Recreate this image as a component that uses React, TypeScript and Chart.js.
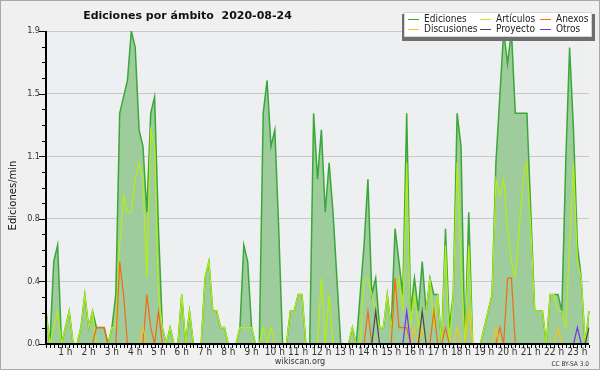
import React, { useEffect, useRef } from 'react';
import { Chart, registerables } from 'chart.js';

Chart.register(...registerables);

const TITLE = 'Ediciones por ámbito  2020-08-24';
const Y_TITLE = 'Ediciones/min';
const FOOTER = 'wikiscan.org';
const LICENSE = 'CC BY-SA 3.0';

// 10-minute samples from 00:10 to 23:30
const categories: string[] = Array.from({ length: 141 }, (_, j) => {
  const m = (j + 1) * 10;
  return `${String(Math.floor(m / 60)).padStart(2, '0')}:${String(m % 60).padStart(2, '0')}`;
});

const hourLabels = [
  '1 h', '2 h', '3 h', '4 h', '5 h', '6 h', '7 h', '8 h', '9 h', '10 h', '11 h', '12 h',
  '13 h', '14 h', '15 h', '16 h', '17 h', '18 h', '19 h', '20 h', '21 h', '22 h', '23 h',
];

const yTickValues = [0, 0.38, 0.76, 1.14, 1.52, 1.9];
const yTickLabels = ['0.0', '0.4', '0.8', '1.1', '1.5', '1.9'];

const ediciones = [
  0.2, 0, 0.5, 0.6, 0, 0.1, 0.2, 0, 0, 0.1,
  0.3, 0.1, 0.2, 0.1, 0.1, 0.1, 0, 0.1, 0.3, 1.4,
  1.5, 1.6, 1.9, 1.8, 1.3, 1.2, 0.8, 1.4, 1.5, 0.7,
  0.1, 0, 0.1, 0, 0, 0.3, 0, 0.2, 0, 0,
  0, 0.4, 0.5, 0.2, 0.2, 0.1, 0.1, 0, 0, 0,
  0.1, 0.6, 0.5, 0.1, 0, 0, 1.4, 1.6, 1.2, 1.3,
  0.7, 0, 0, 0.2, 0.2, 0.3, 0.3, 0, 0, 1.4,
  1.0, 1.3, 0.8, 1.1, 0.8, 0.4, 0, 0, 0, 0.1,
  0, 0.3, 0.6, 1.0, 0.3, 0.4, 0.1, 0.1, 0.3, 0.1,
  0.7, 0.5, 0.3, 1.4, 0.2, 0.4, 0.2, 0.5, 0.2, 0.4,
  0.3, 0.3, 0, 0.7, 0.1, 0.3, 1.4, 1.2, 0, 0.8,
  0, 0, 0, 0.1, 0.2, 0.3, 1.1, 1.5, 1.9, 1.7,
  1.9, 1.4, 1.4, 1.4, 1.4, 0.8, 0.2, 0.2, 0.2, 0,
  0.3, 0.3, 0.3, 0.2, 1.1, 1.8, 1.3, 0.6, 0.4, 0,
  0.2,
];

const articulos = [
  0.2, 0, 0.1, 0.2, 0, 0.1, 0.2, 0, 0, 0.1,
  0.3, 0.1, 0.2, 0, 0, 0, 0, 0.1, 0.1, 0.6,
  0.9, 0.8, 0.8, 1.0, 1.1, 1.0, 0.4, 1.3, 1.2, 0.3,
  0.1, 0, 0.1, 0, 0, 0.3, 0, 0.2, 0, 0,
  0, 0.4, 0.5, 0.2, 0.2, 0.1, 0.1, 0, 0, 0,
  0.1, 0.1, 0.1, 0.1, 0, 0, 0.1, 0, 0.1, 0,
  0, 0, 0, 0.2, 0.2, 0.3, 0.3, 0, 0, 0,
  0, 0.4, 0, 0.3, 0, 0, 0, 0, 0, 0.1,
  0, 0, 0.4, 0.4, 0.3, 0.2, 0.1, 0.1, 0.3, 0.1,
  0.3, 0.4, 0.2, 1.1, 0.1, 0.3, 0.1, 0.2, 0.2, 0.4,
  0.1, 0.3, 0, 0.6, 0, 0.3, 1.1, 0.5, 0, 0.6,
  0, 0, 0, 0.1, 0.2, 0.3, 1.0, 0.9, 1.0, 0.7,
  0.5, 0.4, 0.7, 1.0, 1.1, 0.7, 0.2, 0.2, 0.2, 0,
  0.3, 0.3, 0.2, 0.2, 0.1, 0.6, 1.1, 0.5, 0.4, 0,
  0.2,
];

const anexos = [
  0, 0, 0, 0, 0, 0, 0, 0, 0, 0,
  0, 0, 0, 0.1, 0.1, 0.1, 0, 0, 0, 0.5,
  0.3, 0, 0, 0, 0, 0, 0.3, 0.1, 0, 0.2,
  0, 0, 0, 0, 0, 0, 0, 0, 0, 0,
  0, 0, 0, 0, 0, 0, 0, 0, 0, 0,
  0, 0, 0, 0, 0, 0, 0, 0, 0, 0,
  0, 0, 0, 0, 0, 0, 0, 0, 0, 0,
  0, 0, 0, 0, 0, 0, 0, 0, 0, 0,
  0, 0, 0, 0.2, 0, 0, 0, 0, 0, 0,
  0.4, 0.1, 0.1, 0.1, 0, 0, 0, 0, 0, 0,
  0.2, 0, 0, 0.1, 0, 0, 0, 0, 0, 0,
  0, 0, 0, 0, 0, 0, 0, 0.1, 0, 0.4,
  0.4, 0, 0, 0, 0, 0, 0, 0, 0, 0,
  0, 0, 0, 0, 0, 0, 0, 0, 0, 0,
  0,
];

const discusiones = [
  0, 0, 0, 0, 0, 0, 0, 0, 0, 0,
  0, 0, 0, 0, 0, 0, 0, 0, 0, 0,
  0, 0, 0, 0, 0, 0.1, 0, 0, 0, 0,
  0, 0, 0, 0, 0, 0, 0, 0, 0, 0,
  0, 0, 0, 0, 0, 0, 0, 0, 0, 0,
  0, 0, 0, 0, 0, 0, 0, 0, 0, 0,
  0, 0, 0, 0, 0, 0, 0, 0, 0, 0,
  0, 0, 0, 0, 0, 0, 0, 0, 0, 0,
  0, 0, 0, 0, 0, 0, 0, 0, 0, 0,
  0, 0, 0, 0, 0, 0.1, 0, 0.1, 0, 0,
  0, 0, 0, 0, 0, 0, 0.1, 0, 0, 0.2,
  0, 0, 0, 0, 0, 0, 0.1, 0, 0, 0,
  0, 0, 0, 0, 0, 0, 0, 0, 0, 0,
  0, 0, 0.1, 0, 0, 0, 0, 0, 0, 0,
  0,
];

const proyecto = [
  0, 0, 0, 0, 0, 0, 0, 0, 0, 0,
  0, 0, 0, 0, 0, 0, 0, 0, 0, 0,
  0, 0, 0, 0, 0, 0, 0, 0, 0, 0,
  0, 0, 0, 0, 0, 0, 0, 0, 0, 0,
  0, 0, 0, 0, 0, 0, 0, 0, 0, 0,
  0, 0, 0, 0, 0, 0, 0, 0, 0, 0,
  0, 0, 0, 0, 0, 0, 0, 0, 0, 0,
  0, 0, 0, 0, 0, 0, 0, 0, 0, 0,
  0, 0, 0, 0, 0, 0.2, 0, 0, 0, 0,
  0, 0, 0, 0, 0, 0, 0, 0.2, 0, 0,
  0, 0, 0, 0, 0, 0, 0, 0, 0, 0,
  0, 0, 0, 0, 0, 0, 0, 0, 0, 0,
  0, 0, 0, 0, 0, 0, 0, 0, 0, 0,
  0, 0, 0, 0, 0, 0, 0, 0, 0, 0,
  0.1,
];

const otros = [
  0, 0, 0, 0, 0, 0, 0, 0, 0, 0,
  0, 0, 0, 0, 0, 0, 0, 0, 0, 0,
  0, 0, 0, 0, 0, 0, 0, 0, 0, 0,
  0, 0, 0, 0, 0, 0, 0, 0, 0, 0,
  0, 0, 0, 0, 0, 0, 0, 0, 0, 0,
  0, 0, 0, 0, 0, 0, 0, 0, 0, 0,
  0, 0, 0, 0, 0, 0, 0, 0, 0, 0,
  0, 0, 0, 0, 0, 0, 0, 0, 0, 0,
  0, 0, 0, 0, 0, 0, 0, 0, 0, 0,
  0, 0, 0, 0.2, 0, 0, 0, 0, 0, 0,
  0, 0, 0, 0, 0, 0, 0, 0, 0, 0,
  0, 0, 0, 0, 0, 0, 0, 0, 0, 0,
  0, 0, 0, 0, 0, 0, 0, 0, 0, 0,
  0, 0, 0, 0, 0, 0, 0, 0.1, 0, 0,
  0,
];

const COND = "'DejaVu Sans Condensed', 'DejaVu Sans', sans-serif";
const SANS = "'DejaVu Sans', sans-serif";

const decor = {
  id: 'decor',
  beforeDraw(chart: any) {
    const { ctx, width, height, chartArea: a } = chart;
    ctx.save();
    ctx.fillStyle = '#f0f0f0';
    ctx.fillRect(0, 0, width, height);
    ctx.fillStyle = '#eeeff1';
    ctx.fillRect(a.left, a.top, a.right - a.left, a.bottom - a.top);
    ctx.strokeStyle = '#a9a9a9';
    ctx.lineWidth = 1;
    ctx.strokeRect(0.5, 0.5, width - 1, height - 1);
    ctx.restore();
  },
  afterDatasetsDraw(chart: any) {
    const { ctx, chartArea: a } = chart;
    const xs = chart.scales.x;
    const ys = chart.scales.y;
    ctx.save();
    ctx.fillStyle = '#000';
    // axes
    ctx.fillRect(a.left - 1, a.top, 2, a.bottom - a.top + 1);
    ctx.fillRect(a.left - 1, a.bottom - 1, a.right - a.left + 1, 2);
    // x ticks at every sample
    for (let i = 0; i < categories.length; i++) {
      const px = Math.round(xs.getPixelForValue(i));
      ctx.fillRect(px, a.bottom + 1, 1, 3);
    }
    // y ticks: majors + 3 minors between
    const yMax = yTickValues[yTickValues.length - 1];
    for (let k = 0; k <= 20; k++) {
      const py = Math.round(ys.getPixelForValue((k * yMax) / 20));
      const len = k % 4 === 0 ? 6 : 3;
      ctx.fillRect(a.left - 1 - len, py, len, 1);
    }
    ctx.restore();
  },
  afterDraw(chart: any) {
    const { ctx, chartArea: a } = chart;
    ctx.save();
    // title
    ctx.fillStyle = '#111';
    ctx.font = `bold 11px ${SANS}`;
    ctx.textAlign = 'center';
    ctx.textBaseline = 'alphabetic';
    ctx.fillText(TITLE, 187.5, 18.5);
    // y title
    ctx.save();
    ctx.translate(13, (a.top + a.bottom) / 2 + 8);
    ctx.rotate(-Math.PI / 2);
    ctx.font = `10px ${SANS}`;
    ctx.textAlign = 'center';
    ctx.textBaseline = 'middle';
    ctx.fillStyle = '#111';
    ctx.fillText(Y_TITLE, 0, 0);
    ctx.restore();
    // footer
    ctx.font = `9px ${COND}`;
    ctx.fillStyle = '#333';
    ctx.textAlign = 'center';
    ctx.fillText(FOOTER, 300, 364);
    ctx.font = `6.5px ${COND}`;
    ctx.textAlign = 'right';
    ctx.fillText(LICENSE, 589, 366);
    // legend
    ctx.fillStyle = '#6e6e6e';
    ctx.fillRect(402, 14, 193, 27);
    ctx.fillStyle = '#ffffff';
    ctx.fillRect(404, 12, 188, 25);
    ctx.strokeStyle = '#d6d6d6';
    ctx.lineWidth = 1;
    ctx.strokeRect(404.5, 12.5, 187, 24);
    const colX = [424, 496, 556];
    const rowY = [19, 29];
    ctx.font = `10px ${COND}`;
    ctx.textAlign = 'left';
    ctx.textBaseline = 'middle';
    chart.data.datasets.forEach((ds: any, i: number) => {
      const cx = colX[i % 3];
      const cy = rowY[Math.floor(i / 3)];
      ctx.strokeStyle = ds.borderColor;
      ctx.lineWidth = 1;
      ctx.beginPath();
      ctx.moveTo(cx - 16, cy + 0.5);
      ctx.lineTo(cx - 5, cy + 0.5);
      ctx.stroke();
      ctx.fillStyle = '#222';
      ctx.fillText(ds.label, cx, cy);
    });
    ctx.restore();
  },
};

export default function App() {
  const ref = useRef<HTMLCanvasElement | null>(null);
  useEffect(() => {
    if (!ref.current) return;
    const chart = new Chart(ref.current, {
      type: 'line',
      data: {
        labels: categories,
        datasets: [
          { label: 'Ediciones', data: ediciones, borderColor: '#38a838', backgroundColor: '#9ecc9d', fill: 'origin', borderWidth: 1.5, order: 6 },
          { label: 'Artículos', data: articulos, borderColor: '#b4ee12', borderWidth: 1.2, fill: false, order: 5 },
          { label: 'Anexos', data: anexos, borderColor: '#f26a18', borderWidth: 1.2, fill: false, order: 4 },
          { label: 'Discusiones', data: discusiones, borderColor: '#f6c41c', borderWidth: 1.2, fill: false, order: 3 },
          { label: 'Proyecto', data: proyecto, borderColor: '#484848', borderWidth: 1.2, fill: false, order: 2 },
          { label: 'Otros', data: otros, borderColor: '#7a2cf0', borderWidth: 1.2, fill: false, order: 1 },
        ],
      },
      options: {
        animation: false,
        responsive: false,
        maintainAspectRatio: false,
        devicePixelRatio: 1,
        layout: { padding: { top: 31, right: 11, left: 0, bottom: 0 } },
        elements: { point: { radius: 0 }, line: { tension: 0 } },
        plugins: { legend: { display: false }, title: { display: false }, tooltip: { enabled: false } },
        scales: {
          x: {
            type: 'category',
            offset: false,
            grid: { display: false, drawTicks: false },
            border: { display: false },
            ticks: {
              autoSkip: false,
              maxRotation: 0,
              minRotation: 0,
              padding: 2,
              color: '#333',
              font: { family: COND, size: 10 },
              callback: (_v: any, index: number) =>
                (index + 1) % 6 === 0 ? hourLabels[(index + 1) / 6 - 1] ?? '' : '',
            },
            afterFit: (s: any) => { s.height = 26; },
          },
          y: {
            min: 0,
            max: yTickValues[yTickValues.length - 1],
            grid: {
              drawTicks: false,
              color: (c: any) => (c.tick && c.tick.value === 0 ? 'rgba(0,0,0,0)' : '#c9c9c9'),
              lineWidth: 1,
            },
            border: { display: false },
            afterBuildTicks: (s: any) => { s.ticks = yTickValues.map((v) => ({ value: v })); },
            ticks: {
              padding: 6,
              color: '#333',
              font: { family: COND, size: 9 },
              callback: (v: any) => yTickLabels[yTickValues.indexOf(v)] ?? '',
            },
            afterFit: (s: any) => { s.width = 46; },
          },
        },
      },
      plugins: [decor],
    });
    return () => chart.destroy();
  }, []);
  return (
    <div style={{ position: 'absolute', left: 0, top: 0, width: 600, height: 370 }}>
      <canvas ref={ref} width={600} height={370} style={{ width: 600, height: 370, display: 'block' }} />
    </div>
  );
}
